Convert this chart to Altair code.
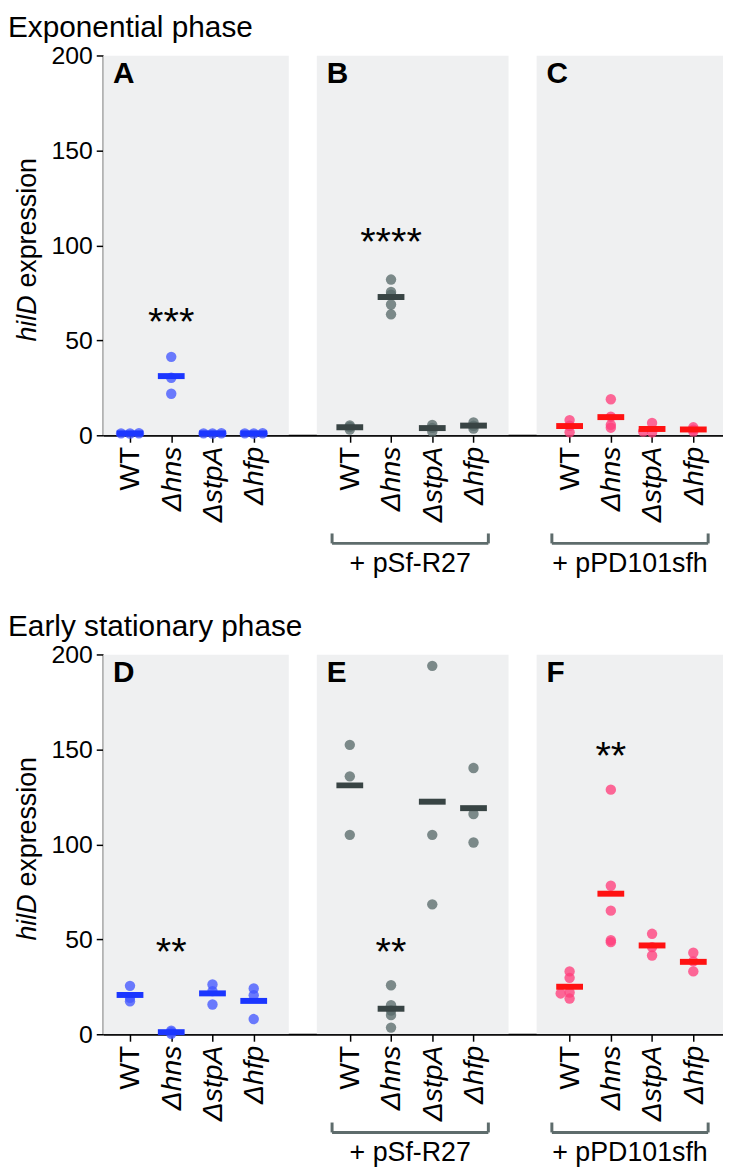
import altair as alt
import pandas as pd

# ---------------- data ----------------
strains = ["WT", "Δhns", "ΔstpA", "Δhfp"]

row_titles = ["Exponential phase", "Early stationary phase"]
letters_top = ["A", "B", "C"]
letters_bottom = ["D", "E", "F"]
plasmids = ["+ pSf-R27", "+ pPD101sfh"]

# values per strain (WT, hns, stpA, hfp) for each panel
A_vals = [[0.95, 1.0, 1.05], [41.3, 30.3, 21.9], [0.95, 1.0, 1.05], [0.95, 1.0, 1.05]]
B_vals = [[3.0, 4.4, 5.2], [82.0, 75.5, 74.0, 68.9, 63.7], [2.0, 3.9, 5.5], [3.5, 5.0, 6.8]]
C_vals = [[1.6, 5.0, 8.0], [4.0, 5.5, 9.8, 19.0], [1.5, 2.0, 6.5], [2.0, 3.0, 4.2]]
D_vals = [[25.5, 19.2, 17.4], [0.3, 1.1, 1.9], [26.2, 22.7, 15.7], [24.1, 20.6, 8.0]]
E_vals = [[152.4, 135.8, 105.0], [25.8, 15.3, 12.5, 10.1, 3.5], [194.0, 105.0, 68.4], [140.2, 116.0, 101.0]]
F_vals = [[33.1, 29.7, 22.0, 21.5, 18.8], [128.8, 78.2, 65.1, 49.5, 48.5], [52.9, 45.9, 41.5], [42.9, 38.4, 33.1]]

# significance marks: (panel index, strain index, label, height)
stars_top = [(0, 1, "***", 63.7), (1, 1, "****", 106.0)]
stars_bottom = [(0, 1, "**", 47.6), (1, 1, "**", 47.6), (2, 1, "**", 150.8)]

point_colors = ["#4257ff", "#5a6b6b", "#ff3f7c"]
mean_colors = ["#1b36ff", "#384444", "#ff1212"]

# ---------------- layout constants ----------------
W, H = 625, 383
GAP = 5.33
XMIN, XMAX = -0.65, 14.38
FONT = "Liberation Sans"
PX_PER_UNIT = W / (XMAX - XMIN)
PX_PER_Y = H / 200.0


def pos(p, i):
    return round(p * GAP + i, 3)


positions = [pos(p, i) for p in range(3) for i in range(4)]
labels12 = [s for p in range(3) for s in strains]
wt_positions = [pos(p, 0) for p in range(3)]

xscale = alt.Scale(domain=[XMIN, XMAX], nice=False, zero=False)
yscale = alt.Scale(domain=[0, 200], nice=False, zero=True)


def swarm(vals):
    """simple beeswarm: spread nearly identical values sideways"""
    d = 9 / PX_PER_UNIT
    thr = 1.0 / PX_PER_Y
    placed, offs = [], []
    for v in vals:
        for k in [0, -1, 1, -2, 2, -3, 3]:
            off = k * d
            if all(not (abs(v - pv) < thr and abs(off - po) < d * 0.9) for pv, po in placed):
                break
        placed.append((v, off))
        offs.append(off)
    return offs


x_axis = alt.Axis(
    values=positions,
    labelExpr=f"{labels12}[indexof({positions}, datum.value)]",
    labelAngle=270,
    labelFontSize=28.5,
    labelFont=FONT,
    labelColor="black",
    labelFontStyle={"condition": {"test": f"indexof({wt_positions}, datum.value) < 0", "value": "italic"},
                    "value": "normal"},
    labelPadding=4,
    tickSize=7,
    tickColor="black",
    tickWidth=1.5,
    domainColor="black",
    domainWidth=2,
    grid=False,
    title=None,
)
y_axis = alt.Axis(
    values=[0, 50, 100, 150, 200],
    labelFontSize=25,
    labelFont=FONT,
    labelColor="black",
    labelPadding=4,
    tickSize=7,
    tickColor="black",
    tickWidth=1.5,
    domainColor="black",
    domainWidth=2,
    grid=False,
    title=None,
)


def make_row(title, letters, panel_vals, stars, bracket_y):
    pts, means = [], []
    for p, vals in enumerate(panel_vals):
        for i, vs in enumerate(vals):
            offs = swarm(vs)
            for v, o in zip(vs, offs):
                pts.append({"panel": letters[p], "x": pos(p, i) + o, "value": v})
            means.append({"panel": letters[p], "x": pos(p, i), "mean": sum(vs) / len(vs)})
    pts = pd.DataFrame(pts)
    means = pd.DataFrame(means)

    bg = pd.DataFrame({
        "panel": letters,
        "x1": [p * GAP - 0.8 for p in range(3)],
        "x2": [p * GAP + 3.85 for p in range(3)],
    })
    let = pd.DataFrame({
        "letter": letters,
        "x": [max(p * GAP - 0.8, XMIN) for p in range(3)],
    })
    st = pd.DataFrame([{"x": pos(p, i), "y": h, "t": t} for p, i, t, h in stars])
    br = pd.DataFrame({
        "x1": [p * GAP - 0.43 for p in (1, 2)],
        "x2": [p * GAP + 3.36 for p in (1, 2)],
        "xm": [p * GAP + 1.465 for p in (1, 2)],
        "label": plasmids,
    })

    X = lambda f: alt.X(f, scale=xscale, axis=x_axis)
    Y = lambda f: alt.Y(f, scale=yscale, axis=y_axis)

    bg_layer = alt.Chart(bg).mark_rect(color="#eff0f1", clip=True).encode(
        x=X("x1:Q"), x2="x2:Q", y=alt.value(0), y2=alt.value(H),
    )
    pt_layer = alt.Chart(pts).mark_circle(size=110, opacity=0.78).encode(
        x=X("x:Q"), y=Y("value:Q"),
        color=alt.Color("panel:N", scale=alt.Scale(domain=letters, range=point_colors), legend=None),
    )
    mean_layer = alt.Chart(means).mark_tick(orient="horizontal", size=27, thickness=6, opacity=1).encode(
        x=X("x:Q"), y=Y("mean:Q"),
        color=alt.Color("panel:N", scale=alt.Scale(domain=letters, range=mean_colors), legend=None),
    )
    star_layer = alt.Chart(st).mark_text(font=FONT, fontSize=40, baseline="middle", dy=9, color="black").encode(
        x=X("x:Q"), y=Y("y:Q"), text="t:N",
    )
    letter_layer = alt.Chart(let).mark_text(
        font=FONT, fontSize=30, fontWeight="bold", align="left", baseline="top", dx=10, color="black"
    ).encode(x=X("x:Q"), y=alt.value(4), text="letter:N")
    bcol = "#5e6c6c"
    br_h = alt.Chart(br).mark_rule(color=bcol, strokeWidth=3).encode(
        x=X("x1:Q"), x2="x2:Q", y=alt.value(bracket_y)
    )
    br_l = alt.Chart(br).mark_rule(color=bcol, strokeWidth=3).encode(
        x=X("x1:Q"), y=alt.value(bracket_y - 10), y2=alt.value(bracket_y)
    )
    br_r = alt.Chart(br).mark_rule(color=bcol, strokeWidth=3).encode(
        x=X("x2:Q"), y=alt.value(bracket_y - 10), y2=alt.value(bracket_y)
    )
    br_t = alt.Chart(br).mark_text(font=FONT, fontSize=27, baseline="middle", color="black").encode(
        x=X("xm:Q"), y=alt.value(bracket_y + 21), text="label:N"
    )
    ytitle_a = alt.Chart(pd.DataFrame({"t": ["hilD"]})).mark_text(
        font=FONT, fontSize=27, fontStyle="italic", angle=270, align="right", baseline="middle", color="black"
    ).encode(x=alt.value(-76), y=alt.value(242), text="t:N")
    ytitle_b = alt.Chart(pd.DataFrame({"t": ["expression"]})).mark_text(
        font=FONT, fontSize=27, angle=270, align="left", baseline="middle", dx=8, color="black"
    ).encode(x=alt.value(-76), y=alt.value(242), text="t:N")

    layer = alt.layer(
        bg_layer, pt_layer, mean_layer, star_layer, letter_layer,
        br_h, br_l, br_r, br_t, ytitle_a, ytitle_b,
    ).resolve_scale(color="independent").properties(
        width=W, height=H,
        title=alt.TitleParams(
            text=title, anchor="start", frame="group", dx=-96,
            fontSize=30, font=FONT, fontWeight="normal", color="black",
            baseline="bottom", offset=-29,
        ),
    )
    return layer


row1 = make_row(row_titles[0], letters_top, [A_vals, B_vals, C_vals], stars_top, 492)
row2 = make_row(row_titles[1], letters_bottom, [D_vals, E_vals, F_vals], stars_bottom, 482)

chart = alt.vconcat(row1, row2, spacing=35).properties(padding=0).configure_view(stroke=None)

chart.save("out.html", embed_options={"renderer": "svg", "actions": False})
